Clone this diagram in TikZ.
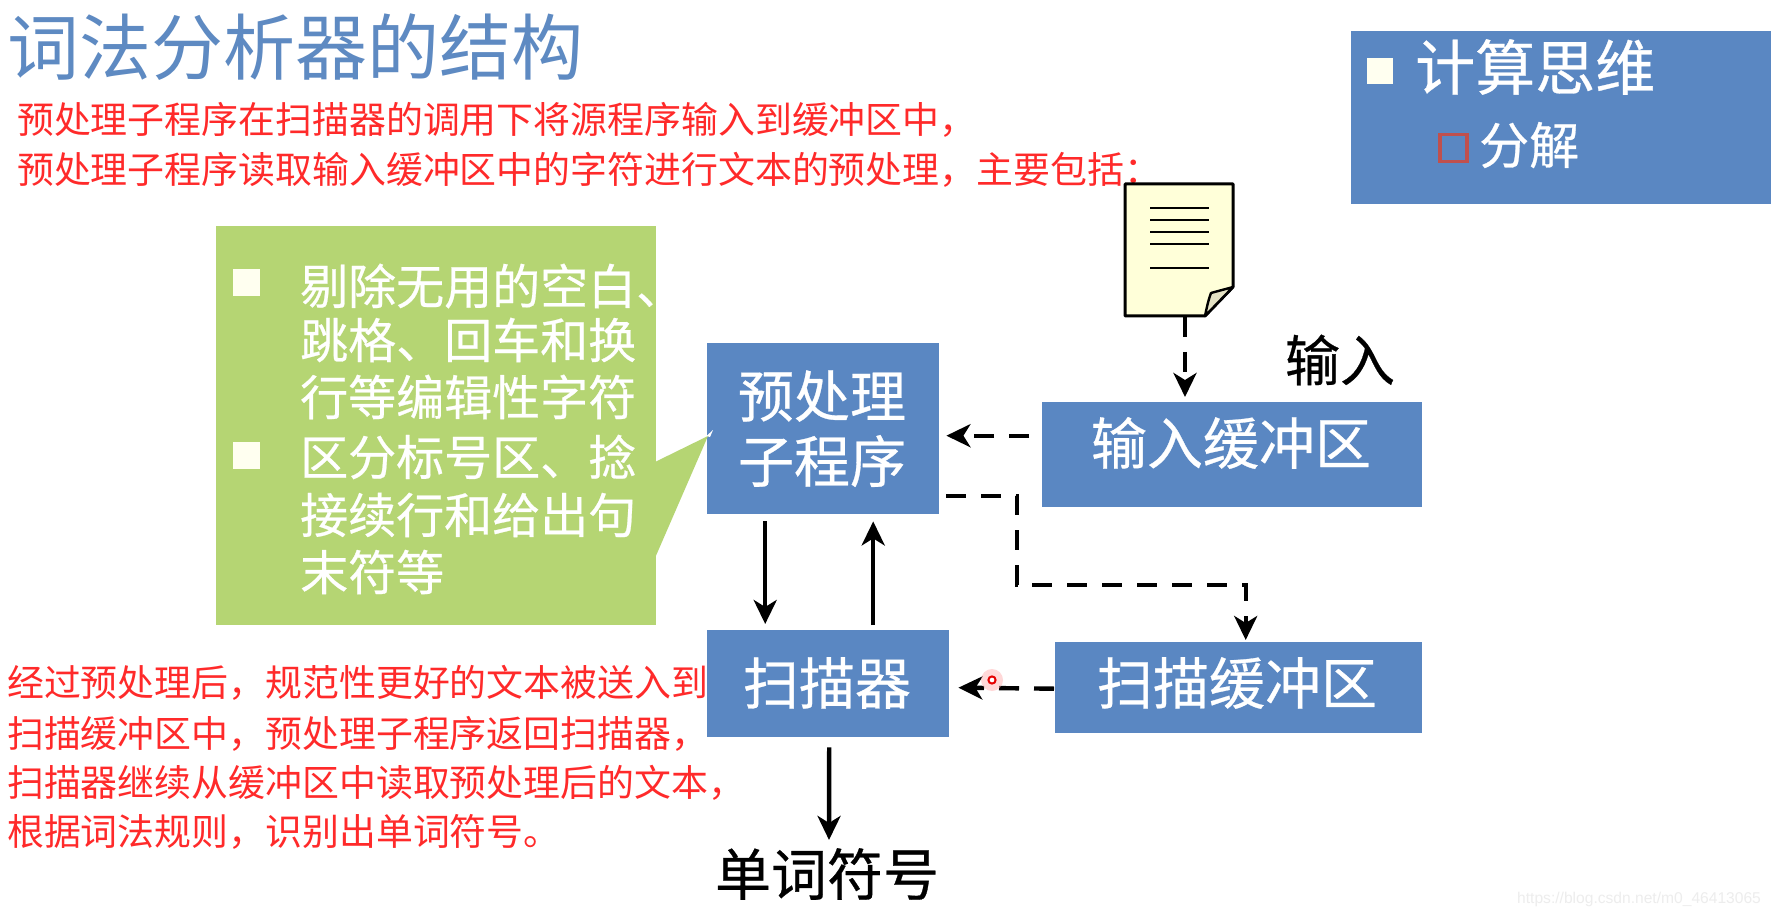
\documentclass[tikz,border=0pt]{standalone}
\usepackage{fontspec}
\setmainfont{Noto Sans CJK SC}
\newfontfamily\heavyfont[FakeBold=0.5]{Noto Sans CJK SC}
\newfontfamily\latinfont{Liberation Sans}
\usetikzlibrary{arrows.meta}
\definecolor{bluebox}{HTML}{5A87C2}
\definecolor{titleblue}{HTML}{5E8AC2}
\definecolor{greenbox}{HTML}{B5D573}
\definecolor{redtext}{HTML}{FF2A2A}
\definecolor{docfill}{HTML}{FFFFD9}
\definecolor{foldfill}{HTML}{E4E2C4}
\definecolor{squarered}{HTML}{C0504D}
\definecolor{bulletwhite}{HTML}{FFFFF0}
\newcommand{\fs}[1]{\fontsize{#1}{#1}\selectfont}
\tikzset{
  x=1pt,y=-1pt,
  bx/.style={fill=bluebox,draw=none,inner sep=0pt,anchor=north west},
  boxtext/.style={text=white,inner sep=0pt,font=\heavyfont\fs{56}},
  redline/.style={text=redtext,inner sep=0pt,anchor=west,font=\fs{36.9}},
  greenline/.style={text=white,inner sep=0pt,anchor=west,font=\heavyfont\fs{48}},
  solidarrow/.style={line width=4.4pt,-{Stealth[length=24pt,width=23pt,inset=7pt]}},
  dasharrow/.style={line width=4.4pt,dash pattern=on 20pt off 15pt,-{Stealth[length=24pt,width=23pt,inset=7pt]}},
  docline/.style={line width=2.7pt,black},
}
\begin{document}
\begin{tikzpicture}
\useasboundingbox (0,0) rectangle (1773,917);
\fill[white] (0,0) rectangle (1773,917);

% title
\node[text=titleblue,inner sep=0pt,anchor=west,font=\fs{72}] (title) at (7,47) {词法分析器的结构};

% top right panel
\node[bx,minimum width=420pt,minimum height=173pt] (panel) at (1351,31) {};
\node[fill=bulletwhite,inner sep=0pt,minimum size=26pt] (bullet0) at (1380,71) {};
\node[text=white,inner sep=0pt,anchor=west,font=\heavyfont\fs{60}] (ct) at (1415,67) {计算思维};
\node[draw=squarered,line width=3.5pt,inner sep=0pt,minimum size=27pt] (bullet00) at (1453.5,148) {};
\node[text=white,inner sep=0pt,anchor=west,font=\heavyfont\fs{50}] (fj) at (1479,145) {分解};

% red text
\node[redline] (t1) at (17,120) {预处理子程序在扫描器的调用下将源程序输入到缓冲区中，};
\node[redline] (t2) at (17,170) {预处理子程序读取输入缓冲区中的字符进行文本的预处理，主要包括：};
\node[redline] (l1) at (7,683) {经过预处理后，规范性更好的文本被送入到};
\node[redline] (l2) at (7,734) {扫描缓冲区中，预处理子程序返回扫描器，};
\node[redline] (l3) at (7,783) {扫描器继续从缓冲区中读取预处理后的文本，};
\node[redline] (l4) at (7,832) {根据词法规则，识别出单词符号。};

% boxes
\node[bx,minimum width=232pt,minimum height=171pt] (pre) at (707,343) {};
\node[boxtext] (pre1) at (822,396) {预处理};
\node[boxtext] (pre2) at (822,461) {子程序};
\node[bx,minimum width=380pt,minimum height=105pt] (inbuf) at (1042,402) {};
\node[boxtext] (inbuf1) at (1231,443) {输入缓冲区};
\node[bx,minimum width=242pt,minimum height=107pt] (scan) at (707,630) {};
\node[boxtext] (scan1) at (827,683) {扫描器};
\node[bx,minimum width=367pt,minimum height=91pt] (scanbuf) at (1055,642) {};
\node[boxtext] (scanbuf1) at (1237,683) {扫描缓冲区};

% green callout
\node[fill=greenbox,inner sep=0pt,anchor=north west,minimum width=440pt,minimum height=399pt] (callout) at (216,226) {};
\coordinate (tip) at (708,436);
\fill[greenbox] (655,462) -- (tip) -- (655,558) -- cycle;
\fill[white] (713,430) -- (706.5,436) -- (710,437) -- cycle;
\node[fill=bulletwhite,inner sep=0pt,minimum size=27pt] (b1) at (246,283) {};
\node[fill=bulletwhite,inner sep=0pt,minimum size=27pt] (b2) at (246,455) {};
\node[greenline] (g1) at (300,286) {剔除无用的空白、};
\node[greenline] (g2) at (300,340) {跳格、回车和换};
\node[greenline] (g3) at (300,397) {行等编辑性字符};
\node[greenline] (g4) at (300,457) {区分标号区、捻};
\node[greenline] (g5) at (300,515) {接续行和给出句};
\node[greenline] (g6) at (300,572) {末符等};

% labels
\node[inner sep=0pt,font=\heavyfont\fs{55}] (inlabel) at (1340,360) {输入};
\node[inner sep=0pt,font=\heavyfont\fs{56}] (words) at (827,874) {单词符号};

% document
\draw[line width=3pt,fill=docfill,line join=round] (1125,184) -- (1233,184) -- (1233,287) -- (1205,316) -- (1125,316) -- cycle;
\draw[line width=2.4pt,fill=foldfill,line join=round] (1205,316) .. controls (1207,306) and (1209,298) .. (1211,293) .. controls (1218,291) and (1226,289) .. (1233,287) -- cycle;
\foreach \yy in {208,220,232,244,268} \draw[docline] (1150,\yy) -- (1209,\yy);
\coordinate (doc) at (1185,317);

% connectors
\draw[dasharrow] (doc) -- ([yshift=5pt]inbuf.north -| doc);
\draw[dasharrow] ([xshift=-13pt,yshift=19pt]inbuf.west) -- ([xshift=7pt,yshift=-7pt]pre.east);
\draw[dasharrow] ([xshift=7pt,yshift=-67pt]pre.east) -| (1017,585) -| ([xshift=7pt,yshift=2pt]scanbuf.north);
\draw[dasharrow] ([xshift=-1pt,yshift=-1pt]scanbuf.west) -- ([xshift=9pt,yshift=-4pt]scan.east);
\draw[solidarrow] ([xshift=-58pt,yshift=-7pt]pre.south) -- ([xshift=-63pt,yshift=3pt]scan.north |- 0,627);
\draw[solidarrow] ([xshift=45pt,yshift=5pt]scan.north) -- ([xshift=50pt,yshift=-7pt]pre.south);
\draw[solidarrow] ([xshift=1pt,yshift=-10pt]scan.south) -- ([xshift=2pt,yshift=8pt]words.north);

% cursor dot
\fill[red!30,opacity=.5] (992,680) circle (11pt);
\draw[red!90!black,line width=2pt,fill=white] (992,680) circle (3.6pt);

% watermark
\node[inner sep=0pt,anchor=west,text=black!7,font=\latinfont\fs{15.6}] (wm) at (1517,899) {https://blog.csdn.net/m0\_46413065};
\end{tikzpicture}
\end{document}
